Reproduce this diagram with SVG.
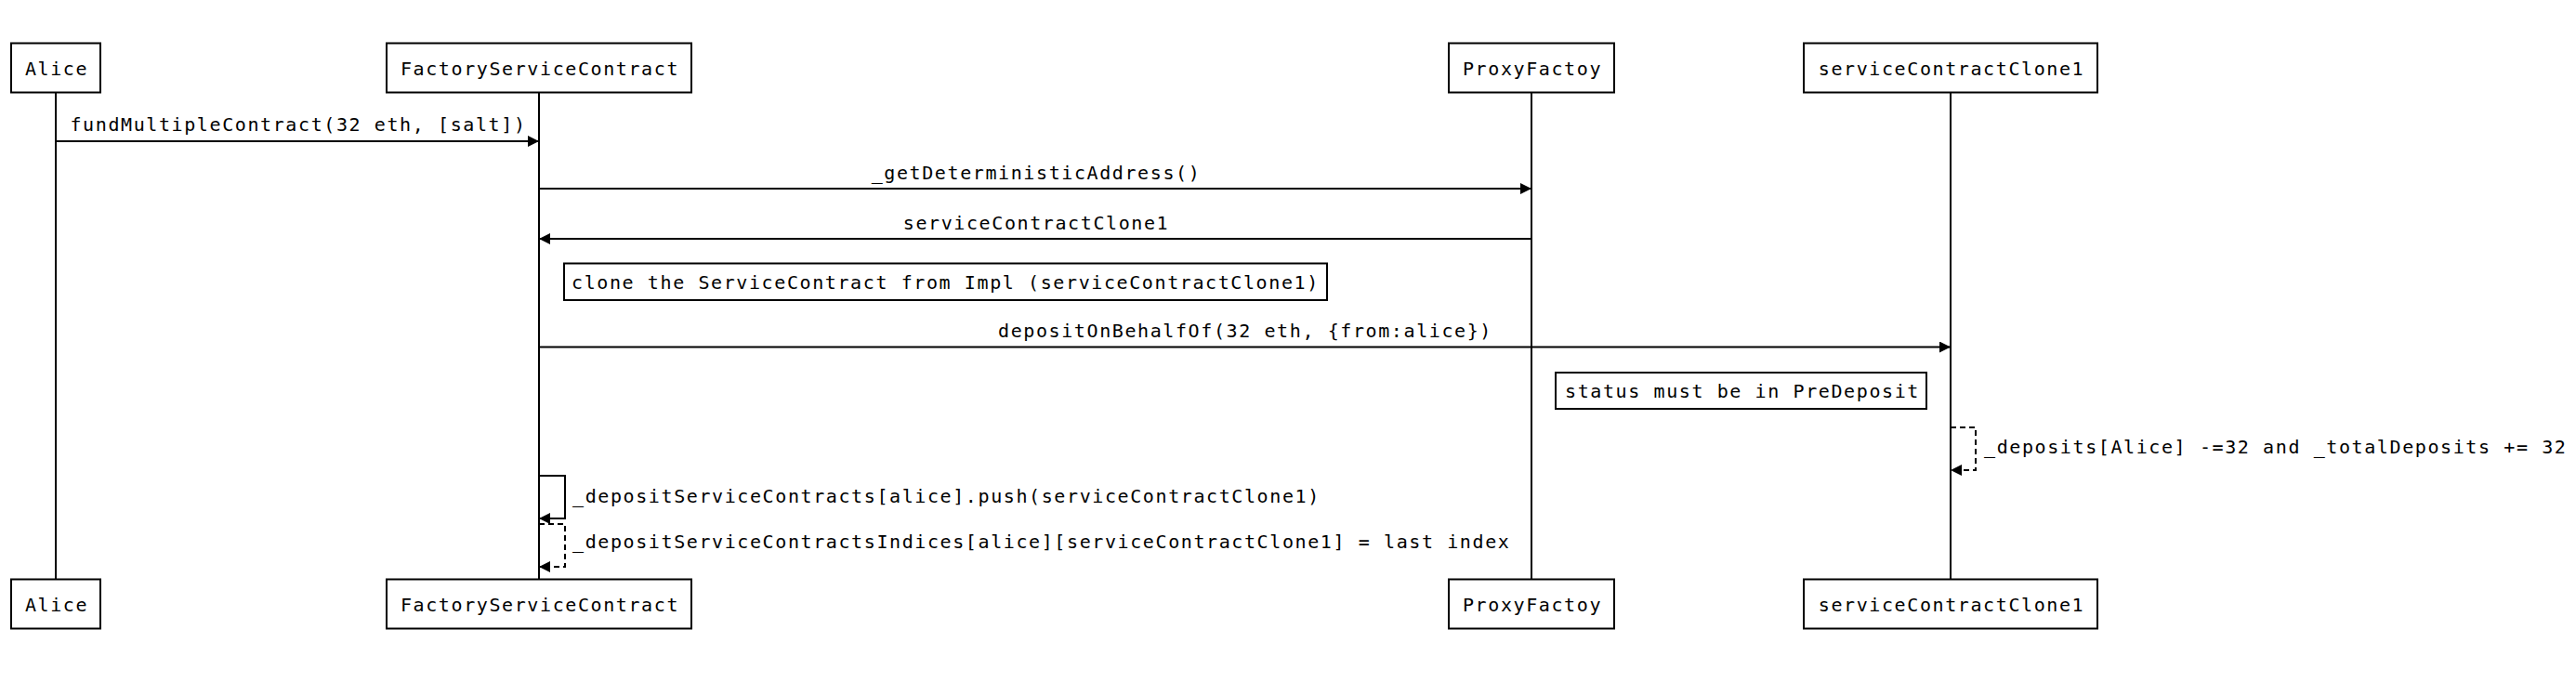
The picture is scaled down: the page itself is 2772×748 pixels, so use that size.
<svg xmlns="http://www.w3.org/2000/svg" width="2772" height="748" viewBox="0 0 2772 748">
<style>
.bg{fill:#ffffff}
.box{fill:#ffffff;stroke:#000;stroke-width:2}
.life{stroke:#000;stroke-width:2;fill:none}
.msg{stroke:#000;stroke-width:2;fill:none;marker-end:url(#ah)}
.dash{stroke-dasharray:6,4}
.t{font-family:"DejaVu Sans Mono","Liberation Mono",monospace;font-size:20px;letter-spacing:1.6px;fill:#000}
.m{text-anchor:middle}
</style>
<defs>
<marker id="ah" markerUnits="userSpaceOnUse" markerWidth="12" markerHeight="12" refX="12" refY="6" orient="auto">
<path d="M0,0 L12,6 L0,12 z" fill="#000"/>
</marker>
</defs>
<rect class="bg" x="0" y="0" width="2772" height="748"/>
<g id="lifelines">
<line class="life" x1="60" y1="99.5" x2="60" y2="623.5"/>
<line class="life" x1="580" y1="99.5" x2="580" y2="623.5"/>
<line class="life" x1="1648" y1="99.5" x2="1648" y2="623.5"/>
<line class="life" x1="2099" y1="99.5" x2="2099" y2="623.5"/>
</g>
<g id="node-alice">
<rect class="box" x="12" y="46.5" width="96" height="53"/>
<text class="t m" x="61" y="80.5">Alice</text>
<rect class="box" x="12" y="623.5" width="96" height="53"/>
<text class="t m" x="61" y="657.5">Alice</text>
</g>
<g id="node-factory">
<rect class="box" x="416" y="46.5" width="328" height="53"/>
<text class="t m" x="581" y="80.5">FactoryServiceContract</text>
<rect class="box" x="416" y="623.5" width="328" height="53"/>
<text class="t m" x="581" y="657.5">FactoryServiceContract</text>
</g>
<g id="node-proxy">
<rect class="box" x="1559" y="46.5" width="178" height="53"/>
<text class="t m" x="1649" y="80.5">ProxyFactoy</text>
<rect class="box" x="1559" y="623.5" width="178" height="53"/>
<text class="t m" x="1649" y="657.5">ProxyFactoy</text>
</g>
<g id="node-clone">
<rect class="box" x="1941" y="46.5" width="316" height="53"/>
<text class="t m" x="2100" y="80.5">serviceContractClone1</text>
<rect class="box" x="1941" y="623.5" width="316" height="53"/>
<text class="t m" x="2100" y="657.5">serviceContractClone1</text>
</g>
<g id="note-clone">
<rect class="box" x="607" y="283.5" width="821" height="39.5"/>
<text class="t" x="615" y="310.5">clone the ServiceContract from Impl (serviceContractClone1)</text>
</g>
<g id="note-status">
<rect class="box" x="1674" y="401" width="399" height="39"/>
<text class="t" x="1684" y="428">status must be in PreDeposit</text>
</g>
<g id="connectors">
<line class="msg" x1="60" y1="152" x2="580" y2="152"/>
<text class="t m" x="321" y="141">fundMultipleContract(32 eth, [salt])</text>
<line class="msg" x1="580" y1="203" x2="1648" y2="203"/>
<text class="t m" x="1115" y="193">_getDeterministicAddress()</text>
<line class="msg" x1="1648" y1="257" x2="580" y2="257"/>
<text class="t m" x="1115" y="246.5">serviceContractClone1</text>
<line class="msg" x1="580" y1="373.5" x2="2099" y2="373.5"/>
<text class="t m" x="1340" y="363">depositOnBehalfOf(32 eth, {from:alice})</text>
<path class="msg dash" d="M2099,460 H2126 V506 H2099"/>
<text class="t" x="2135" y="488">_deposits[Alice] -=32 and _totalDeposits += 32</text>
<path class="msg" d="M580,512 H608 V558 H580"/>
<text class="t" x="616" y="541">_depositServiceContracts[alice].push(serviceContractClone1)</text>
<path class="msg dash" d="M580,564 H608 V610 H580"/>
<text class="t" x="616" y="590">_depositServiceContractsIndices[alice][serviceContractClone1] = last index</text>
</g>
</svg>
